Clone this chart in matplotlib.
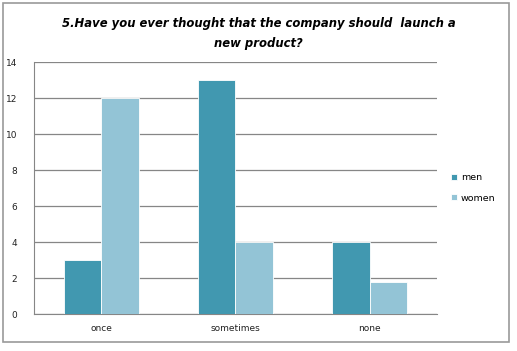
import numpy as np
import matplotlib
matplotlib.use("Agg")
import matplotlib.pyplot as plt
from matplotlib.patches import Rectangle

categories = ["once", "sometimes", "none"]
men = [3, 13, 4]
women = [12, 4, 1.8]
series_names = ["men", "women"]

fig = plt.figure(figsize=(5.17, 3.51), dpi=100)
fig.patches.append(Rectangle((0.006, 0.026), 0.979, 0.965, transform=fig.transFigure,
                             fill=False, edgecolor="#9a9a9a", linewidth=1.2))

ax = fig.add_axes([0.066, 0.105, 0.779, 0.718])
x = np.arange(len(categories))
w = 0.28
ax.bar(x - w / 2, men, w, color="#4198b0", edgecolor="white", linewidth=0.6, label=series_names[0], zorder=3)
ax.bar(x + w / 2, women, w, color="#93c4d6", edgecolor="white", linewidth=0.6, label=series_names[1], zorder=3)

ax.set_xlim(-0.5, 2.5)
ax.set_ylim(0, 14)
ax.set_yticks(range(0, 15, 2))
ax.set_xticks(x)
ax.set_xticklabels(categories)
ax.yaxis.grid(True, color="#868686", linewidth=0.9, zorder=0)
ax.tick_params(length=0, labelsize=6.5, colors="#222222")
ax.tick_params(axis="y", pad=12)
ax.tick_params(axis="x", pad=7)
for s in ["top", "right"]:
    ax.spines[s].set_visible(False)
for s in ["left", "bottom"]:
    ax.spines[s].set_color("#868686")

fig.text(0.5, 0.905, "5.Have you ever thought that the company should  launch a\nnew product?",
         ha="center", va="center", fontsize=8.4, fontweight="bold", fontstyle="italic",
         linespacing=1.75)

ax.legend(loc="center left", bbox_to_anchor=(1.015, 0.5), frameon=False, fontsize=6.8,
          handlelength=0.6, handleheight=0.6, handletextpad=0.4, labelspacing=1.2)

fig.savefig("out.png", dpi=100)
